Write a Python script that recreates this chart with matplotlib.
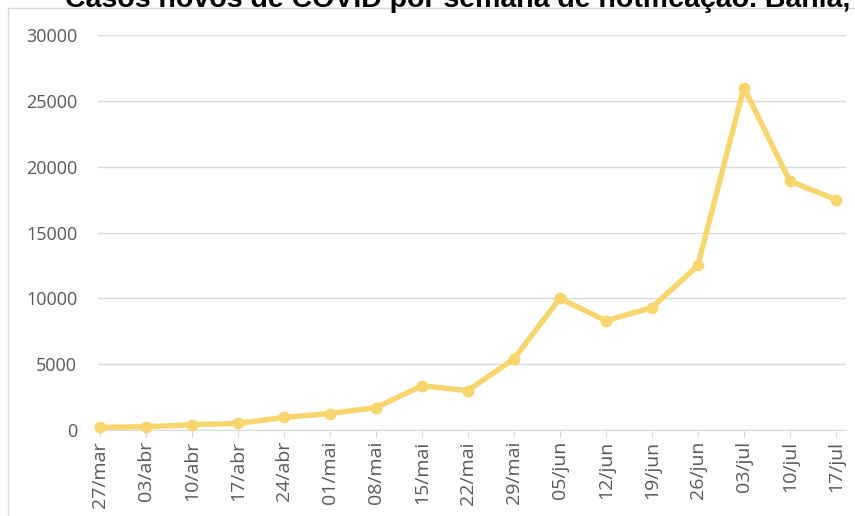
import matplotlib
matplotlib.use("Agg")
import matplotlib.pyplot as plt
from matplotlib.patches import Rectangle

weeks = ["27/mar", "03/abr", "10/abr", "17/abr", "24/abr", "01/mai", "08/mai",
         "15/mai", "22/mai", "29/mai", "05/jun", "12/jun", "19/jun", "26/jun",
         "03/jul", "10/jul", "17/jul"]
cases = [200, 250, 400, 500, 950, 1250, 1700, 3350, 3000, 5400, 10000,
         8300, 9300, 12500, 26000, 18900, 17500]
yticks = [0, 5000, 10000, 15000, 20000, 25000, 30000]
title = "Casos novos de COVID por semana de notificação. Bahia, 2020"

W, H = 855, 516
fig = plt.figure(figsize=(W / 100, H / 100), dpi=100)
fig.patch.set_facecolor("white")

# chart frame
fig.add_artist(Rectangle((8 / W, -0.1), 1.2, 1 - 8 / H + 0.1, transform=fig.transFigure,
                         fill=False, edgecolor="#d9d9d9", linewidth=1))

ax = fig.add_axes([98 / W, 1 - 430 / H, (846 - 98) / W, (430 - 35) / H])
x = list(range(len(weeks)))
ax.plot(x, cases, color="#F8D66D", linewidth=3.9, marker="o", markersize=7.5,
        solid_joinstyle="round", clip_on=False, zorder=3)

ax.set_ylim(0, 30000)
ax.set_xlim(-0.04, 16.22)
ax.set_yticks(yticks)
ax.set_yticklabels([str(v) for v in yticks])
ax.set_xticks(x)
ax.set_xticklabels(weeks, rotation=90)
ax.grid(axis="y", color="#d9d9d9", linewidth=1)
ax.set_axisbelow(True)
for s in ["top", "right", "left"]:
    ax.spines[s].set_visible(False)
ax.spines["bottom"].set_color("#d9d9d9")
ax.tick_params(axis="y", length=0, pad=15, labelsize=13, labelcolor="#595959")
ax.tick_params(axis="x", length=5, color="#d9d9d9", pad=3, labelsize=14,
               labelcolor="#595959")
for lab in ax.get_xticklabels() + ax.get_yticklabels():
    lab.set_fontfamily("Open Sans")

fig.text(65 / W, 1 - 7 / H, title, fontsize=20.5, fontweight="bold",
         fontfamily="Liberation Sans", ha="left", va="baseline", color="black")

fig.savefig("out.png", dpi=100)
